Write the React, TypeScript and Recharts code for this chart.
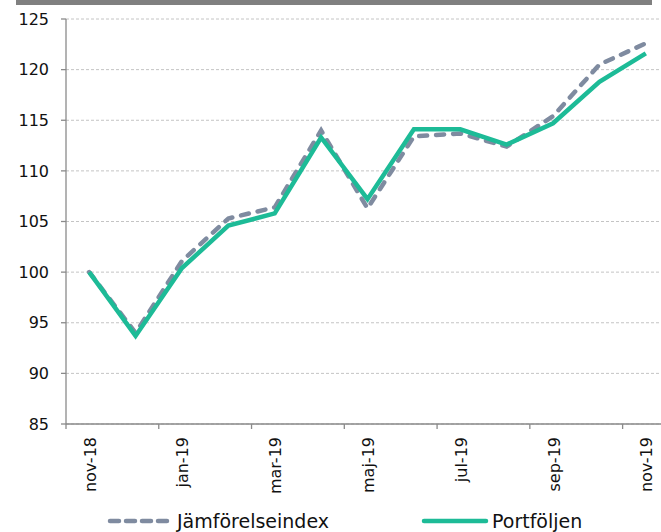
import React from "react";
import { LineChart, Line, XAxis, YAxis, CartesianGrid } from "recharts";

const categories = [
  "nov-18", "dec-18", "jan-19", "feb-19", "mar-19", "apr-19", "maj-19",
  "jun-19", "jul-19", "aug-19", "sep-19", "okt-19", "nov-19",
];
const portfoljen = [100, 93.7, 100.4, 104.6, 105.8, 113.3, 107.2, 114.1, 114.1, 112.6, 114.7, 118.8, 121.6];
const jamforelseindex = [100, 94.0, 101.1, 105.3, 106.4, 114.0, 106.3, 113.4, 113.7, 112.4, 115.4, 120.5, 122.6];
const yTicks = [85, 90, 95, 100, 105, 110, 115, 120, 125];
const xTickIdx = [0, 2, 4, 6, 8, 10, 12];
const seriesNames = ["Jämförelseindex", "Portföljen"];

const data = categories.map((c, i) => ({
  x: i + 0.5,
  cat: c,
  jam: jamforelseindex[i],
  port: portfoljen[i],
}));

const GRAY = "#7F8BA0";
const TEAL = "#1DBB97";
const FONT = "'DejaVu Sans', Verdana, sans-serif";
const CHART_W = 680;
const CHART_H = 532;
const M = { top: 19, right: 11, left: 0, bottom: 0 };
const Y_W = 66;
const PLOT_W = CHART_W - M.right - M.left - Y_W;
const BAND = PLOT_W / categories.length;

const XTick = (props: any) => {
  const { x, y, payload } = props;
  const label = categories[payload.value];
  if (!label) return null;
  const cx = x + BAND / 2 + 1;
  const cy = y + 6;
  return (
    <text
      x={cx}
      y={cy}
      transform={`rotate(-90, ${cx}, ${cy})`}
      textAnchor="end"
      dominantBaseline="central"
      fontFamily={FONT}
      fontSize={16}
      fill="#111"
    >
      {label}
    </text>
  );
};

export default function App() {
  return (
    <div
      style={{
        position: "absolute",
        left: 0,
        top: 0,
        width: 661,
        height: 532,
        overflow: "hidden",
        background: "#fff",
      }}
    >
      <div
        style={{
          position: "absolute",
          left: 16,
          top: 0,
          width: 636,
          height: 5,
          background: "#808080",
        }}
      />
      <LineChart width={CHART_W} height={CHART_H} data={data} margin={M}>
        <CartesianGrid
          horizontal={true}
          vertical={false}
          stroke="#c4c4c4"
          strokeDasharray="3 2"
        />
        <XAxis
          dataKey="x"
          type="number"
          domain={[0, categories.length]}
          ticks={xTickIdx}
          interval={0}
          height={CHART_H - M.top - 405}
          axisLine={{ stroke: "#8a8a8a", strokeWidth: 1.3 }}
          tickLine={{ stroke: "#8a8a8a", strokeWidth: 1.3 }}
          tickSize={5}
          tick={<XTick />}
          allowDataOverflow
        />
        <YAxis
          type="number"
          domain={[85, 125]}
          ticks={yTicks}
          interval={0}
          width={Y_W}
          axisLine={{ stroke: "#8a8a8a", strokeWidth: 1.3 }}
          tickLine={{ stroke: "#8a8a8a", strokeWidth: 1.3 }}
          tickSize={5}
          tickMargin={12}
          tick={{ fontFamily: FONT, fontSize: 16, fill: "#111" }}
        />
        <Line
          type="linear"
          dataKey="jam"
          name={seriesNames[0]}
          stroke={GRAY}
          strokeWidth={4.5}
          strokeDasharray="8 9"
          strokeLinecap="round"
          dot={false}
          activeDot={false}
          isAnimationActive={false}
        />
        <Line
          type="linear"
          dataKey="port"
          name={seriesNames[1]}
          stroke={TEAL}
          strokeWidth={4.5}
          strokeLinejoin="miter"
          dot={false}
          activeDot={false}
          isAnimationActive={false}
        />
      </LineChart>
      <svg
        width={661}
        height={532}
        style={{ position: "absolute", left: 0, top: 0, pointerEvents: "none" }}
      >
        <line
          x1={110}
          y1={521}
          x2={170}
          y2={521}
          stroke={GRAY}
          strokeWidth={4.5}
          strokeDasharray="9 7"
          strokeLinecap="round"
        />
        <text x={177} y={528} fontFamily={FONT} fontSize={19} fill="#111">
          {seriesNames[0]}
        </text>
        <line x1={424} y1={521} x2={486} y2={521} stroke={TEAL} strokeWidth={4.5} strokeLinecap="round" />
        <text x={492} y={528} fontFamily={FONT} fontSize={19} fill="#111">
          {seriesNames[1]}
        </text>
      </svg>
    </div>
  );
}
